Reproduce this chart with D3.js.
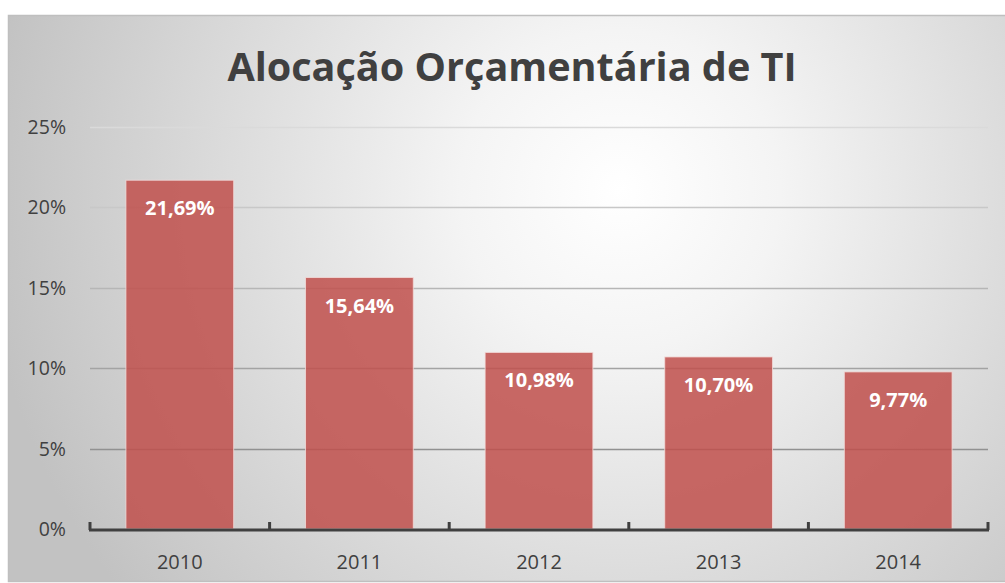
<!DOCTYPE html>
<html>
<head>
<meta charset="utf-8">
<script src="https://d3js.org/d3.v7.min.js"></script>
<style>
  html, body { margin: 0; padding: 0; background: #fff; }
  svg { display: block; }
</style>
</head>
<body>
<div id="chart"></div>
<script>
// chart data
const years = ['2010', '2011', '2012', '2013', '2014'];
const budgetShare = [21.69, 15.64, 10.98, 10.70, 9.77];
const yTicks = [0, 5, 10, 15, 20, 25];
const chartTitle = 'Alocação Orçamentária de TI';

const width = 1005, height = 583;
const margin = { top: 127, right: 17, bottom: 54, left: 90 };
const font = '"Open Sans", sans-serif';

const svg = d3.select('#chart').append('svg')
    .attr('width', width)
    .attr('height', height);

// background gradient (white spot near centre, grey towards edges)
const defs = svg.append('defs');
const bg = defs.append('radialGradient')
    .attr('id', 'bg')
    .attr('gradientUnits', 'userSpaceOnUse')
    .attr('cx', 620).attr('cy', 190).attr('r', 640);
bg.append('stop').attr('offset', 0).attr('stop-color', '#ffffff');
bg.append('stop').attr('offset', 0.25).attr('stop-color', '#f4f4f4');
bg.append('stop').attr('offset', 0.7).attr('stop-color', '#d6d6d6');
bg.append('stop').attr('offset', 1).attr('stop-color', '#c2c2c2');

svg.append('rect')
    .attr('x', 8.5).attr('y', 15.5)
    .attr('width', width + 10).attr('height', height - 17)
    .attr('fill', 'url(#bg)')
    .attr('stroke', '#bfbfbf')
    .attr('stroke-width', 1.5);

const x = d3.scaleBand()
    .domain(years)
    .range([margin.left, width - margin.right])
    .paddingInner(0.4)
    .paddingOuter(0.2);

const y = d3.scaleLinear()
    .domain([0, 25])
    .range([height - margin.bottom, margin.top]);

// gridlines get darker toward the bottom
const gridColor = d3.scaleLinear().domain([0, 25]).range(['#7f7f7f', '#dadada']);

svg.append('g')
    .selectAll('line')
    .data(yTicks.filter(d => d > 0))
    .enter()
    .append('line')
    .attr('x1', margin.left)
    .attr('x2', width - margin.right)
    .attr('y1', d => Math.round(y(d)) + 0.5)
    .attr('y2', d => Math.round(y(d)) + 0.5)
    .attr('stroke', d => gridColor(d))
    .attr('stroke-width', 1.5);

// y labels
svg.append('g')
    .selectAll('text')
    .data(yTicks)
    .enter()
    .append('text')
    .attr('x', 66)
    .attr('y', d => y(d) + 7)
    .attr('text-anchor', 'end')
    .attr('font-family', font)
    .attr('font-size', '19.5px')
    .attr('fill', '#404040')
    .text(d => d + '%');

// bars
svg.append('g')
    .selectAll('rect')
    .data(budgetShare)
    .enter()
    .append('rect')
    .attr('x', (d, i) => x(years[i]))
    .attr('y', d => y(d))
    .attr('width', x.bandwidth())
    .attr('height', d => y(0) - y(d))
    .attr('fill', '#c0504d')
    .attr('fill-opacity', 0.86)
    .attr('stroke', '#f2dcdb')
    .attr('stroke-opacity', 0.8)
    .attr('stroke-width', 1);

// value labels
svg.append('g')
    .selectAll('text')
    .data(budgetShare)
    .enter()
    .append('text')
    .attr('x', (d, i) => x(years[i]) + x.bandwidth() / 2)
    .attr('y', d => y(d) + 35)
    .attr('text-anchor', 'middle')
    .attr('font-family', font)
    .attr('font-weight', 'bold')
    .attr('font-size', '20px')
    .attr('fill', '#ffffff')
    .text(d => d.toFixed(2).replace('.', ',') + '%');

// x axis: baseline with upward ticks at category boundaries
const axisY = y(0) + 1;
const step = x.step();
const bounds = d3.range(years.length + 1).map(i => margin.left + i * step);
const axis = svg.append('g');
axis.append('line')
    .attr('x1', margin.left - 1).attr('x2', width - margin.right + 1)
    .attr('y1', axisY).attr('y2', axisY)
    .attr('stroke', '#404040')
    .attr('stroke-width', 3);
axis.selectAll('line.tick')
    .data(bounds)
    .enter()
    .append('line')
    .attr('class', 'tick')
    .attr('x1', d => d).attr('x2', d => d)
    .attr('y1', axisY).attr('y2', axisY - 8)
    .attr('stroke', '#404040')
    .attr('stroke-width', 3);

axis.selectAll('text')
    .data(years)
    .enter()
    .append('text')
    .attr('x', d => x(d) + x.bandwidth() / 2)
    .attr('y', 569)
    .attr('text-anchor', 'middle')
    .attr('font-family', font)
    .attr('font-size', '20px')
    .attr('fill', '#404040')
    .text(d => d);

// title, sized to fit the reference width
const title = svg.append('text')
    .attr('x', 512)
    .attr('y', 81)
    .attr('text-anchor', 'middle')
    .attr('font-family', font)
    .attr('font-weight', 'bold')
    .attr('font-size', '40px')
    .attr('fill', '#404040')
    .text(chartTitle);
const tw = title.node().getComputedTextLength();
title.attr('font-size', (40 * 569 / tw).toFixed(1) + 'px');
</script>
</body>
</html>
